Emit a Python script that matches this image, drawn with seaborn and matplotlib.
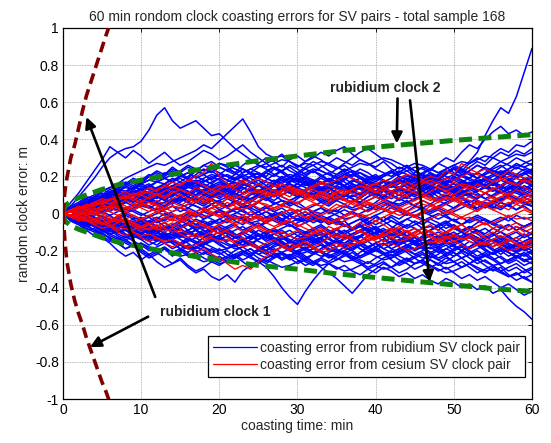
import numpy as np
import pandas as pd
import matplotlib
matplotlib.use("Agg")
import matplotlib.pyplot as plt
import seaborn as sns
from matplotlib.lines import Line2D

# ---------------- data (clock errors in cm, one value per minute 0..60) ----------------
rb01 = [0,4,9,14,19,25,30,33,35,36, 39,45,53,57,50,46,48,50,46,42, 43,39,35,32,29,26,24,21,19,17,
        18,20,16,13,15,18,19,16,14,12, 11,13,16,17,14,12,10,9,12,14, 16,13,10,8,11,13,15,12,11,9, 10]
rb02 = [0,2,4,7,9,12,14,16,19,21, 23,25,27,26,28,30,32,34,37,35, 39,43,47,51,44,36,32,30,31,28,
        25,27,26,23,21,24,26,23,20,18, 19,21,23,20,18,16,17,19,21,18, 16,14,15,17,19,16,14,13,15,17, 16]
rb03 = [0,-2,1,3,1,4,3,6,8,6, 9,11,9,12,14,12,15,17,15,13, 11,13,15,17,14,12,10,9,12,14,
        16,14,12,10,9,7,10,12,14,17, 15,13,11,14,16,19,17,19,20,22, 24,25,28,33,42,50,57,54,63,76, 89]
rb04 = [0,3,1,4,6,4,7,9,8,11, 13,10,8,11,14,12,9,7,10,13, 15,12,10,13,16,18,15,12,14,17,
        19,16,13,11,14,17,15,12,10,13, 16,14,17,20,18,22,25,23,27,30, 28,33,37,35,40,44,47,43,45,42, 44]
rb05 = [0,-1,2,4,3,6,8,5,7,10, 12,15,13,16,19,17,20,23,21,18, 21,24,22,19,17,20,23,25,22,19,
        22,25,28,26,23,21,24,22,19,17, 15,18,16,13,11,14,17,20,18,22, 25,23,27,30,28,32,35,33,37,36, 39]
rb06 = [0,-3,-5,-4,-7,-9,-8,-11,-13,-12, -14,-17,-15,-13,-16,-19,-17,-20,-22,-19, -21,-24,-22,-20,-23,-26,-29,-34,-40,-45,
        -49,-42,-36,-31,-27,-25,-22,-24,-21,-18, -16,-19,-17,-14,-12,-15,-18,-16,-13,-11, -14,-12,-9,-11,-14,-12,-10,-13,-15,-12, -10]
rb07 = [0,-1,-3,-2,-5,-4,-6,-8,-7,-9, -11,-9,-12,-14,-12,-10,-13,-15,-17,-14, -16,-19,-17,-20,-22,-19,-21,-24,-22,-25,
        -23,-26,-28,-25,-27,-30,-28,-31,-33,-30, -32,-29,-31,-34,-32,-35,-33,-36,-38,-35, -37,-40,-38,-41,-39,-43,-41,-46,-50,-53, -57]
rb08 = [0,2,-1,-3,-2,-5,-7,-6,-9,-11, -10,-13,-15,-12,-14,-17,-19,-16,-18,-21, -19,-22,-24,-21,-23,-20,-18,-21,-24,-22,
        -25,-28,-26,-29,-32,-35,-39,-43,-38,-33, -30,-27,-29,-26,-24,-27,-25,-22,-20,-23, -21,-24,-27,-25,-28,-31,-29,-33,-36,-34, -37]
rb09 = [0,-4,-6,-9,-12,-10,-14,-16,-19,-17, -20,-23,-21,-24,-27,-25,-29,-32,-30,-34, -36,-33,-37,-31,-28,-25,-27,-24,-21,-23,
        -20,-18,-21,-19,-16,-14,-17,-15,-12,-10, -13,-11,-8,-10,-13,-15,-12,-9,-7,-10, -12,-14,-11,-9,-12,-15,-13,-16,-18,-15, -13]
rb10 = [0,-3,-2,-6,-9,-13,-16,-20,-23,-21, -25,-22,-26,-29,-27,-24,-28,-31,-29,-26, -23,-26,-24,-21,-19,-22,-20,-17,-15,-18,
        -21,-19,-16,-14,-17,-20,-22,-19,-17,-15, -18,-21,-23,-20,-18,-16,-19,-22,-25,-23, -26,-29,-27,-24,-22,-25,-28,-31,-29,-32, -30]
rb11 = [0,6,11,17,23,29,36,33,30,34, 31,27,30,33,29,26,28,31,34,32, 29,31,34,37,33,30,27,29,32,28,
        25,28,31,29,26,24,27,30,33,35, 32,29,27,24,26,23,21,24,27,25, 22,20,23,26,24,21,19,22,25,23, 21]
rb12 = [0,3,5,8,6,10,13,11,15,18, 16,20,23,21,25,22,19,23,26,24, 27,25,22,26,29,27,30,28,25,29,
        31,28,30,33,31,34,36,32,29,27, 25,28,24,22,25,21,19,22,18,16, 19,17,14,16,19,17,15,18,21,19, 17]
rb13 = [0,1,3,2,4,6,5,3,6,8, 7,9,6,4,7,9,11,8,6,9, 12,10,8,11,13,10,12,15,13,11,
        9,12,14,11,9,7,10,8,6,9, 11,13,10,8,11,14,12,10,7,9, 12,10,13,11,8,10,13,15,12,10, 12]
rb14 = [0,-1,-3,-2,-4,-6,-5,-7,-5,-8, -6,-9,-11,-8,-10,-13,-11,-9,-12,-10, -8,-11,-9,-7,-10,-12,-14,-11,-13,-15,
        -12,-10,-13,-11,-14,-16,-13,-11,-9,-12, -10,-8,-11,-13,-15,-12,-14,-17,-15,-13, -16,-14,-11,-13,-16,-18,-15,-17,-20,-18, -16]
rb15 = [0,2,1,3,5,4,7,9,8,11, 13,11,14,16,13,15,18,16,14,17, 19,16,14,17,15,12,14,16,19,17,
        20,18,15,13,16,18,21,19,17,14, 12,15,17,14,12,10,13,15,18,16, 14,17,19,22,20,18,21,19,16,18, 20]
rb16 = [0,-2,-1,-4,-6,-5,-8,-10,-9,-12, -14,-12,-15,-13,-11,-14,-16,-19,-17,-15, -13,-16,-18,-15,-12,-14,-11,-9,-12,-14,
        -17,-15,-13,-16,-19,-21,-18,-20,-23,-21, -19,-22,-24,-21,-18,-20,-17,-15,-18,-21, -23,-20,-22,-25,-23,-21,-24,-27,-25,-28, -26]
rb17 = [0,1,-1,0,2,1,-1,1,3,2, 0,-2,0,2,4,3,1,-1,1,3, 5,3,1,-1,-3,-1,1,-1,-3,-5,
        -3,-1,1,3,1,-1,-3,-2,0,2, 4,6,4,2,0,-2,0,2,4,6, 8,6,4,2,4,6,8,10,8,6, 4]
rb18 = [0,3,5,4,7,9,12,10,8,11, 14,16,13,11,9,12,15,17,14,12, 10,13,11,8,6,9,12,10,7,5,
        8,11,9,6,4,7,10,8,5,3, 6,9,12,10,8,11,14,12,9,7, 10,8,5,3,6,4,2,5,8,6, 4]
rb19 = [0,-2,-4,-3,-5,-3,-1,-4,-6,-8, -6,-4,-7,-9,-7,-5,-3,-6,-8,-5, -3,-1,-4,-6,-3,-1,1,-2,-4,-1,
        1,3,0,-2,-5,-3,-6,-8,-5,-3, -1,-4,-7,-9,-6,-8,-11,-9,-6,-4, -7,-10,-8,-5,-3,-6,-4,-2,-5,-7, -5]
rb20 = [0,2,4,6,5,8,10,12,15,13, 16,18,21,19,17,20,22,19,21,24, 22,20,18,21,19,16,18,21,23,20,
        18,15,17,20,22,19,17,14,16,13, 11,14,16,19,21,18,16,13,15,17, 20,18,15,17,14,12,15,13,16,18, 15]
rb21 = [0,-1,-3,-5,-4,-7,-9,-8,-11,-13, -12,-15,-17,-14,-16,-19,-21,-18,-20,-22, -25,-23,-20,-18,-21,-24,-26,-23,-21,-24,
        -27,-25,-22,-20,-23,-21,-18,-16,-19,-22, -20,-17,-15,-18,-21,-24,-22,-25,-28,-26, -23,-21,-24,-27,-25,-28,-31,-29,-27,-30, -33]
rb22 = [0,1,0,2,4,3,5,3,1,3, 5,7,5,3,6,8,6,4,2,5, 7,9,7,5,8,10,8,6,4,7,
        9,11,9,7,5,8,10,8,6,9, 11,9,12,14,12,10,13,15,13,16, 18,16,14,17,19,17,15,18,20,22, 19]
rb23 = [0,-3,-1,-4,-2,-5,-7,-5,-3,-6, -4,-2,-5,-3,-1,-4,-2,0,-3,-1, 1,-2,0,2,-1,1,3,1,-1,-3,
        -1,1,-2,-4,-2,0,2,0,-2,-4, -6,-4,-2,-5,-3,-1,-3,-5,-7,-5, -3,-6,-4,-2,-4,-6,-8,-6,-9,-7, -5]
rb24 = [0,2,5,3,6,8,11,9,12,10, 8,11,13,10,8,6,9,7,5,8, 6,4,7,5,3,6,9,7,10,12,
        10,13,15,12,14,11,9,12,14,17, 15,13,10,12,9,7,10,12,15,13, 11,9,6,8,11,9,7,10,8,11, 13]
rb25 = [0,-2,-5,-7,-6,-9,-11,-10,-8,-11, -9,-7,-10,-12,-10,-8,-11,-9,-12,-14, -12,-10,-13,-15,-17,-14,-12,-15,-13,-16,
        -14,-11,-9,-12,-10,-8,-11,-9,-7,-10, -12,-15,-13,-16,-14,-17,-19,-16,-18,-15, -13,-16,-19,-17,-20,-22,-19,-21,-24,-22, -20]
rb26 = [0,1,3,5,7,6,4,7,9,11, 9,12,10,7,5,8,6,9,11,14, 12,15,17,14,12,10,13,11,14,16,
        13,11,9,12,10,13,15,18,16,19, 21,18,16,14,17,15,12,14,11,9, 12,10,13,15,18,16,14,17,19,21, 23]
rb27 = [0,-1,1,-1,-3,-2,-4,-2,0,-2, -4,-6,-4,-7,-9,-7,-5,-8,-6,-4, -6,-8,-6,-9,-7,-5,-8,-10,-8,-6,
        -9,-11,-9,-7,-10,-12,-10,-8,-6,-9, -11,-13,-11,-9,-12,-10,-8,-10,-12,-14, -12,-10,-13,-15,-13,-11,-14,-12,-15,-17, -14]
rb28 = [0,2,3,1,3,5,7,5,8,10, 8,6,9,7,10,12,10,13,11,9, 12,14,12,15,17,15,13,11,14,12,
        10,8,11,9,7,10,8,6,9,11, 9,7,5,8,6,4,7,5,8,10, 8,11,9,7,5,3,6,4,7,9, 6]
rb29 = [0,-2,-3,-5,-7,-9,-12,-14,-12,-15, -17,-20,-18,-16,-19,-17,-14,-16,-13,-11, -14,-12,-15,-17,-15,-18,-20,-18,-16,-19,
        -21,-19,-17,-15,-13,-16,-14,-12,-15,-18, -16,-19,-21,-19,-17,-20,-18,-21,-24,-22, -19,-17,-20,-23,-21,-24,-27,-25,-23,-26, -24]
rb30 = [0,3,2,5,7,6,9,12,10,13, 15,13,11,14,17,19,16,14,17,20, 18,15,13,16,14,11,9,12,15,13,
        16,19,17,14,12,15,18,21,19,16, 14,17,19,22,25,23,20,18,21,24, 26,24,21,19,22,25,28,26,24,27, 29]
rb31 = [0,-1,-2,0,-2,-4,-3,-5,-7,-6, -8,-10,-8,-11,-13,-11,-9,-7,-9,-12, -10,-8,-11,-13,-16,-14,-12,-15,-17,-20,
        -18,-16,-19,-21,-24,-22,-20,-23,-25,-27, -24,-22,-25,-28,-26,-24,-27,-29,-27,-30, -28,-26,-29,-32,-30,-28,-31,-34,-32,-35, -37]
rb32 = [0,2,1,-1,1,3,5,4,6,8, 10,8,11,9,12,14,17,15,18,16, 14,17,19,17,20,22,20,24,26,23,
        21,24,22,25,27,30,28,26,29,27, 24,22,20,23,21,19,22,24,22,20, 18,21,23,26,24,22,25,27,30,28, 26]
rb33 = [0,-1,-3,-4,-2,-4,-6,-8,-6,-4, -6,-8,-10,-8,-6,-4,-6,-3,-5,-7, -9,-7,-5,-3,-5,-7,-4,-2,-4,-6,
        -8,-10,-8,-6,-9,-11,-13,-11,-9,-7, -9,-11,-14,-12,-10,-8,-11,-9,-7,-5, -8,-10,-12,-15,-17,-14,-16,-19,-21,-18, -20]
rb34 = [0,2,4,3,5,3,1,4,6,8, 6,4,2,4,7,5,3,1,3,5, 2,0,2,4,2,-1,-3,-1,1,-1,
        -3,-5,-3,-1,-3,-5,-7,-5,-3,-6, -4,-2,-4,-6,-8,-6,-4,-2,0,-2, -4,-6,-3,-1,-3,-5,-7,-9,-7,-9, -11]
rb35 = [0,1,4,6,9,11,10,13,16,14, 17,20,18,21,24,22,25,23,26,28, 25,23,26,24,21,19,22,20,23,25,
        22,20,23,21,18,16,19,21,24,22, 19,21,23,20,18,21,19,16,18,21, 24,22,25,28,26,30,33,31,34,32, 35]
rb36 = [0,-2,-4,-7,-9,-11,-13,-16,-19,-17, -21,-24,-22,-19,-23,-20,-18,-21,-24,-26, -28,-25,-23,-26,-29,-27,-24,-22,-25,-23,
        -20,-23,-26,-24,-21,-19,-22,-25,-27,-30, -28,-26,-29,-32,-30,-27,-25,-28,-31,-29, -32,-35,-33,-36,-34,-37,-40,-38,-41,-44, -42]
rb37 = [0,2,4,6,8,7,10,12,11,14, 16,14,17,19,17,15,18,20,18,16, 19,21,19,22,24,22,19,17,20,18,
        16,19,17,14,16,18,15,13,16,18, 20,17,15,18,16,13,15,17,19,16, 14,17,15,12,14,16,13,11,14,12, 15]
rb38 = [0,-2,-4,-6,-5,-8,-10,-9,-12,-10, -13,-15,-13,-11,-14,-12,-10,-13,-16,-14, -17,-19,-16,-14,-17,-19,-17,-20,-18,-15,
        -17,-20,-22,-19,-17,-15,-18,-16,-19,-21, -18,-16,-19,-17,-14,-16,-18,-21,-19,-17, -20,-18,-15,-17,-20,-22,-20,-18,-21,-23, -21]
rb39 = [0,1,3,5,4,6,9,11,9,12, 10,8,11,13,15,13,16,14,12,15, 17,15,18,20,17,15,13,16,14,17,
        19,17,15,12,14,11,13,16,14,12, 15,17,14,16,19,17,15,18,16,14, 11,13,16,18,15,17,20,18,16,19, 17]
rb40 = [0,-1,-3,-2,-5,-7,-6,-4,-7,-9, -8,-11,-9,-7,-10,-8,-6,-9,-11,-9, -7,-10,-12,-10,-8,-11,-13,-11,-9,-12,
        -14,-12,-15,-13,-11,-14,-16,-14,-12,-15, -13,-11,-14,-17,-15,-13,-16,-14,-12,-15, -17,-15,-13,-16,-18,-16,-14,-17,-19,-17, -15]
rb41 = [0,2,1,4,6,5,3,6,8,7, 5,8,6,9,11,9,7,10,12,10, 8,11,9,7,10,12,14,12,10,13,
        11,9,12,14,12,15,13,11,14,12, 10,13,15,13,11,9,12,10,13,15, 13,11,14,16,14,12,15,17,15,13, 16]
rb42 = [0,-1,1,3,2,0,2,4,3,1, -1,1,3,1,-1,-3,-1,1,-1,-3, -5,-3,-1,-3,-5,-7,-5,-3,-5,-7,
        -5,-3,-1,-3,-5,-3,-1,1,-1,-3, -1,1,3,1,-1,1,3,5,3,1, 3,5,7,5,3,5,7,9,7,5, 7]
rb43 = [0,3,5,8,10,13,11,14,16,19, 17,20,22,20,23,21,18,21,24,22, 25,23,21,24,22,19,22,25,23,26,
        24,21,23,20,18,21,23,20,22,19, 17,20,22,25,23,20,18,21,19,22, 24,21,19,22,25,23,21,24,27,25, 23]
rb44 = [0,-3,-5,-8,-10,-12,-15,-13,-16,-18, -16,-19,-21,-19,-22,-20,-23,-21,-18,-20, -22,-20,-23,-21,-19,-22,-24,-22,-25,-23,
        -21,-24,-22,-20,-23,-25,-23,-21,-24,-22, -19,-22,-20,-23,-25,-23,-21,-24,-22,-19, -21,-24,-22,-20,-23,-25,-23,-26,-24,-22, -25]
rb45 = [0,1,2,4,3,5,7,6,8,10, 9,11,13,12,10,12,14,13,11,9, 11,13,11,9,8,10,12,11,9,7,
        9,11,10,8,6,8,10,9,11,13, 12,10,8,10,12,11,9,11,13,15, 14,12,10,12,14,13,11,13,15,14, 12]
rb46 = [0,-1,-2,-4,-3,-5,-4,-6,-8,-7, -5,-7,-9,-8,-10,-12,-11,-9,-11,-13, -12,-10,-12,-14,-13,-11,-13,-15,-14,-12,
        -10,-12,-14,-13,-11,-9,-11,-13,-12,-10, -8,-10,-12,-11,-13,-15,-14,-12,-10,-12, -14,-13,-11,-13,-15,-14,-16,-18,-17,-15, -13]
rb47 = [0,2,3,5,7,9,8,10,12,14, 13,15,17,16,18,20,19,17,19,21, 20,18,16,18,20,19,17,15,17,19,
        18,16,14,16,18,17,15,13,15,17, 16,14,16,18,17,19,21,20,18,16, 18,20,19,17,19,21,23,22,20,22, 24]
rb48 = [0,-2,-3,-5,-7,-6,-8,-10,-9,-11, -13,-12,-14,-16,-15,-17,-19,-18,-16,-18, -20,-19,-17,-15,-17,-19,-18,-16,-18,-20,
        -22,-21,-19,-17,-19,-21,-20,-18,-16,-18, -20,-22,-21,-19,-17,-15,-17,-19,-18,-16, -18,-20,-22,-24,-23,-21,-19,-21,-23,-25, -24]
rb49 = [0,1,-1,2,1,3,5,4,2,5, 4,7,5,6,8,7,9,6,8,5, 7,4,6,3,5,2,4,1,3,0,
        2,-1,1,0,2,1,4,2,3,5, 2,4,6,5,7,4,3,1,3,5, 3,6,4,7,5,3,6,4,2,5, 4]
rb50 = [0,-2,0,-1,-3,-2,-5,-3,-4,-6, -3,-5,-7,-5,-8,-6,-9,-7,-4,-6, -3,-5,-2,-4,-1,-3,-5,-2,0,-3,
        -1,-4,-2,-5,-3,-6,-4,-8,-6,-9, -7,-10,-8,-5,-7,-4,-6,-3,-5,-8, -6,-9,-7,-10,-8,-11,-8,-6,-9,-7, -5]
rb51 = [0,2,4,3,5,7,9,8,10,12, 11,9,11,13,15,14,12,10,12,14, 16,15,13,11,13,15,17,16,14,12,
        14,16,18,17,15,13,15,17,19,18, 16,14,16,18,20,19,17,15,17,19, 21,20,18,16,18,20,22,21,19,17, 19]
rb52 = [0,-1,-4,-6,-5,-8,-7,-9,-12,-10, -8,-10,-13,-11,-14,-16,-13,-11,-9,-12, -14,-12,-15,-17,-14,-12,-10,-13,-15,-18,
        -16,-13,-15,-17,-20,-18,-16,-13,-15,-12, -10,-13,-16,-14,-17,-19,-16,-14,-12,-15, -17,-20,-18,-15,-17,-19,-22,-19,-17,-20, -18]
rb53 = [0,3,2,5,4,7,6,9,7,10, 12,9,11,8,10,13,11,14,12,15, 13,16,14,11,13,10,12,15,13,16,
        14,17,15,12,14,11,9,12,10,13, 11,8,10,7,9,12,10,13,11,14, 12,15,17,14,16,13,11,14,12,15, 13]
rb54 = [0,-3,-2,-5,-4,-7,-5,-8,-6,-9, -11,-8,-10,-7,-9,-12,-10,-13,-11,-14, -12,-15,-13,-10,-12,-9,-11,-14,-12,-15,
        -17,-14,-16,-13,-11,-14,-12,-15,-13,-10, -8,-11,-9,-12,-10,-13,-16,-14,-17,-15, -12,-14,-11,-13,-16,-14,-17,-19,-16,-18, -15]
rb55 = [0,1,3,2,4,2,5,7,6,4, 6,3,5,2,4,1,3,6,4,7, 5,8,6,9,7,10,8,5,7,4,
        6,3,1,3,0,2,-1,1,3,1, 4,2,5,3,1,4,2,0,2,-1, 1,3,5,2,4,6,3,5,2,4, 1]
rb56 = [0,-1,-2,-1,-3,-1,-4,-2,-5,-3, -6,-4,-2,-4,-1,-3,0,-2,1,-1, 2,0,3,1,-1,1,-2,0,-3,-1,
        -4,-2,-5,-3,-6,-4,-7,-5,-3,-5, -2,-4,-1,-3,0,-2,1,-1,-3,-1, -4,-2,-5,-3,-6,-4,-2,-4,-1,-3, -2]
rb57 = [0,4,6,9,8,12,14,13,17,15, 18,21,19,22,20,23,26,24,21,23, 20,18,21,24,22,25,27,24,22,19,
        21,18,16,19,17,20,22,19,17,14, 16,13,15,18,16,19,21,18,20,23, 21,24,22,19,21,24,26,23,21,24, 22]
rb58 = [0,-4,-6,-9,-8,-11,-13,-16,-14,-17, -19,-22,-20,-18,-21,-19,-22,-24,-21,-23, -26,-24,-22,-25,-23,-20,-22,-19,-21,-24,
        -22,-25,-27,-24,-26,-23,-21,-24,-26,-29, -27,-24,-22,-25,-27,-30,-28,-25,-27,-24, -26,-29,-27,-30,-32,-29,-31,-34,-32,-35, -33]
rb59 = [0,2,1,3,6,4,7,5,8,11, 9,7,10,8,6,9,12,10,13,11, 9,12,10,8,11,9,7,10,13,11,
        14,12,10,13,11,9,7,10,8,11, 9,12,10,13,16,14,12,15,13,11, 14,12,10,8,11,9,12,10,13,11, 9]
rb60 = [0,-2,-1,-3,-6,-4,-7,-5,-3,-6, -4,-7,-9,-7,-10,-8,-6,-9,-7,-10, -8,-11,-13,-11,-9,-12,-10,-8,-11,-9,
        -12,-14,-12,-10,-13,-11,-9,-12,-10,-8, -11,-9,-12,-10,-13,-15,-13,-11,-14,-12, -10,-13,-11,-14,-16,-14,-12,-15,-13,-11, -14]
rb61 = [0,1,3,5,8,10,9,12,14,13, 11,14,12,10,13,11,9,12,10,8, 11,9,12,14,12,15,13,16,18,16,
        14,17,15,13,16,14,12,15,13,11, 14,12,15,17,15,18,16,14,17,15, 13,16,14,12,15,13,11,14,16,19, 17]
rb62 = [0,-1,-3,-5,-7,-10,-9,-12,-14,-13, -11,-14,-12,-10,-13,-11,-9,-12,-10,-8, -11,-9,-12,-14,-12,-15,-17,-15,-18,-16,
        -14,-17,-15,-13,-16,-18,-16,-19,-17,-20, -18,-16,-19,-21,-19,-22,-20,-18,-21,-19, -17,-20,-18,-16,-19,-22,-20,-23,-21,-19, -22]
rb63 = [0,2,3,2,4,6,5,7,9,8, 10,12,11,13,15,14,16,18,17,19, 21,20,18,20,22,21,19,17,19,21,
        20,22,24,23,21,19,21,23,22,20, 18,20,22,21,23,25,24,22,20,22, 24,23,21,19,21,23,22,24,26,25, 27]
rb64 = [0,-1,-4,-3,-2,-5,-7,-6,-8,-7, -9,-11,-13,-12,-10,-12,-14,-16,-15,-13, -15,-17,-19,-18,-16,-18,-20,-22,-21,-19,
        -17,-19,-21,-23,-22,-24,-26,-25,-23,-21, -23,-25,-24,-22,-20,-22,-24,-23,-25,-27, -26,-24,-22,-24,-26,-28,-27,-25,-23,-25, -27]
rb65 = [0,1,0,-2,-1,1,3,2,0,2, 4,3,1,-1,1,3,5,4,2,0, 2,4,6,5,3,1,3,5,7,6,
        4,2,4,6,8,7,5,3,5,7, 9,8,6,4,6,8,10,9,7,5, 7,9,11,10,8,6,8,10,12,11, 9]
rb66 = [0,-2,-1,1,0,-2,-4,-3,-1,-3, -2,-5,-3,0,-2,-1,-4,-6,-3,-1, 1,-1,-3,-2,-5,-4,-2,-4,-6,-4,
        -7,-5,-3,-5,-2,-4,-6,-9,-7,-5, -8,-6,-4,-6,-3,-5,-8,-7,-9,-6, -8,-10,-7,-9,-11,-8,-10,-12,-10,-13, -11]
rb67 = [0,3,5,4,6,9,7,10,8,6, 9,11,14,12,15,17,15,13,16,14, 12,15,13,11,14,12,15,18,16,19,
        17,20,18,16,19,17,14,12,15,13, 11,14,12,10,13,16,14,17,19,17, 20,18,16,19,17,15,18,16,14,17, 15]
rb68 = [0,-3,-5,-4,-6,-9,-7,-10,-8,-6, -9,-11,-14,-12,-15,-17,-15,-13,-11,-14, -12,-10,-13,-11,-14,-12,-15,-13,-16,-18,
        -15,-13,-11,-14,-17,-15,-18,-20,-17,-19, -16,-14,-17,-15,-13,-16,-14,-17,-19,-22, -20,-18,-21,-19,-17,-20,-18,-21,-23,-21, -24]
rb69 = [0,2,4,5,7,9,11,13,12,14, 16,18,17,19,21,20,22,24,23,25, 27,26,24,22,24,26,25,27,29,28,
        26,24,26,28,27,25,23,25,27,26, 28,30,29,27,25,27,26,24,22,24, 26,28,27,29,31,30,28,30,32,31, 33]
rb70 = [0,-2,-4,-5,-7,-9,-11,-13,-15,-17, -16,-18,-20,-19,-21,-23,-22,-24,-26,-25, -27,-26,-24,-22,-24,-26,-25,-27,-29,-28,
        -26,-24,-26,-28,-27,-29,-31,-30,-28,-26, -28,-30,-29,-27,-25,-27,-26,-28,-30,-32, -31,-29,-27,-29,-31,-30,-32,-34,-33,-31, -29]

cs01 = [0,2,4,3,6,8,7,10,12,9, 11,14,12,15,17,15,18,20,22,27, 20,16,14,17,15,12,10,13,11,9,
        12,10,8,11,13,10,8,6,9,11, 9,7,10,12,9,7,10,8,6,9, 7,10,12,9,11,8,6,9,7,5, 8]
cs02 = [0,1,-1,1,3,2,4,3,1,4, 6,4,7,5,8,10,8,6,9,7, 5,8,10,8,11,13,11,9,12,14,
        12,10,13,11,9,12,10,13,15,13, 11,14,16,14,17,15,18,20,19,23, 21,27,24,22,24,22,20,23,21,19, 20]
cs03 = [0,-2,-4,-3,-6,-8,-7,-10,-12,-10, -13,-15,-13,-16,-18,-16,-19,-21,-19,-22, -24,-27,-30,-28,-30,-26,-23,-21,-18,-20,
        -17,-15,-18,-16,-13,-11,-14,-12,-9,-11, -13,-10,-8,-11,-13,-10,-8,-6,-9,-11, -8,-6,-9,-7,-5,-8,-10,-7,-5,-8, -6]
cs04 = [0,1,3,2,0,2,4,6,4,2, 5,3,1,3,6,4,7,9,7,5, 3,6,4,2,4,7,9,11,9,7,
        5,8,6,4,2,5,3,6,8,6, 4,2,0,3,1,-1,1,4,2,0, 2,5,3,1,4,6,4,2,5,7, 5]
cs05 = [0,-1,-3,-1,-3,-5,-4,-2,-4,-6, -8,-6,-9,-7,-5,-8,-6,-4,-7,-9, -11,-9,-7,-10,-8,-6,-9,-11,-13,-11,
        -9,-12,-10,-8,-11,-13,-11,-14,-16,-14, -12,-15,-13,-11,-9,-12,-10,-13,-15,-13, -11,-14,-12,-10,-13,-15,-17,-15,-13,-16, -14]
cs06 = [0,2,1,3,5,7,5,8,10,8, 6,9,11,9,12,10,8,6,9,7, 5,3,6,4,7,9,12,10,13,15,
        13,11,9,12,10,8,11,13,11,14, 16,14,12,10,13,11,9,12,14,12, 10,13,15,13,11,14,12,10,13,11, 9]
cs07 = [0,-1,1,-1,-3,-1,-3,-5,-3,-1, -3,-1,1,-1,-3,-5,-3,-1,1,3, 1,-1,-3,-1,1,-2,-4,-2,0,2,
        0,-2,-4,-2,-4,-6,-4,-2,0,-2, -4,-2,0,2,0,-2,0,2,4,2, 0,-2,0,2,4,2,0,-2,0,2, 0]
cs08 = [0,2,3,5,4,6,8,7,9,7, 10,12,10,8,11,13,11,14,12,10, 13,15,13,11,14,16,14,12,10,13,
        11,9,7,10,8,11,13,11,9,12, 14,12,15,17,15,13,16,18,16,14, 17,15,13,16,14,17,19,17,15,18, 16]
cs09 = [0,-2,-1,-3,-5,-3,-6,-8,-6,-9, -7,-5,-8,-10,-8,-11,-13,-11,-14,-12, -10,-13,-15,-13,-16,-18,-16,-14,-17,-19,
        -17,-15,-18,-20,-18,-16,-19,-17,-15,-12, -14,-12,-9,-11,-13,-11,-8,-10,-12,-10, -7,-9,-11,-14,-12,-10,-13,-11,-9,-12, -10]
cs10 = [0,1,0,2,1,3,1,-1,1,-1, -3,-1,-3,-5,-3,-1,1,-1,1,3, 5,3,5,7,5,3,1,3,5,3,
        1,3,1,-1,1,3,5,7,5,7, 9,7,5,3,5,7,9,7,9,11, 9,7,9,7,5,7,9,11,9,7, 9]
cs11 = [0,-1,-2,-4,-3,-5,-7,-5,-3,-5, -7,-9,-7,-5,-7,-4,-2,-4,-6,-8, -6,-4,-2,-4,-6,-8,-10,-8,-6,-4,
        -6,-8,-10,-12,-10,-8,-6,-8,-10,-12, -14,-12,-10,-8,-10,-12,-14,-16,-14,-12, -15,-17,-19,-17,-15,-18,-16,-14,-17,-19, -17]
cs12 = [0,1,3,4,6,5,3,5,7,5, 3,1,3,1,-1,-3,-1,1,3,1, -1,-3,-5,-3,-1,-3,-5,-7,-5,-3,
        -1,1,-1,-3,-5,-3,-1,1,3,1, 3,5,3,1,3,5,7,5,3,5, 7,9,7,5,7,9,11,9,7,9, 11]
cs13 = [0,1,3,2,4,6,5,7,9,11, 10,8,10,12,14,13,11,9,11,13, 12,10,8,10,12,11,13,15,14,12,
        10,12,14,16,15,13,11,13,15,14, 12,10,12,14,13,15,17,16,14,12, 14,16,15,13,11,13,15,17,16,14, 12]
cs14 = [0,-1,-3,-2,-4,-6,-5,-3,-5,-7, -9,-8,-6,-8,-10,-9,-11,-13,-12,-10, -8,-10,-12,-11,-9,-7,-9,-11,-10,-12,
        -14,-13,-11,-9,-11,-13,-12,-14,-16,-15, -13,-11,-13,-15,-14,-12,-10,-12,-14,-16, -15,-13,-15,-17,-16,-14,-12,-14,-16,-18, -17]
cs15 = [0,2,1,-1,1,0,2,4,3,5, 7,6,4,2,4,3,5,7,6,8, 10,9,7,5,7,6,4,2,4,3,
        1,3,5,4,6,8,7,5,3,5, 4,2,0,2,1,3,5,4,6,8, 7,5,3,5,4,2,4,6,5,3, 1]
cs16 = [0,-2,-1,1,-1,0,-2,-4,-3,-5, -7,-6,-4,-2,-4,-3,-5,-7,-6,-8, -6,-4,-6,-5,-3,-1,-3,-2,0,2,
        0,-2,-1,-3,-5,-4,-2,0,-2,-1, 1,3,1,-1,0,-2,-4,-3,-1,1, -1,-3,-2,-4,-6,-5,-3,-1,-3,-2, -4]
cs17 = [0,1,2,4,6,5,7,9,8,10, 12,11,13,15,14,16,18,17,15,13, 15,14,16,18,17,19,17,15,16,14,
        12,13,15,17,16,18,20,19,17,15, 16,18,17,19,21,20,18,16,17,19, 18,20,22,21,19,17,18,20,19,17, 18]
cs18 = [0,-1,-2,-4,-6,-5,-7,-9,-8,-10, -12,-11,-13,-15,-14,-16,-18,-17,-15,-13, -15,-14,-16,-18,-17,-19,-21,-20,-18,-16,
        -18,-17,-19,-21,-20,-18,-16,-17,-15,-13, -15,-17,-16,-18,-20,-19,-17,-15,-16,-14, -12,-14,-13,-15,-17,-16,-18,-20,-19,-17, -15]
cs19 = [0,1,-1,0,2,4,3,1,3,2, 4,6,5,3,1,3,2,0,-2,0, -1,1,3,2,4,6,5,3,5,7,
        6,8,10,9,7,9,8,6,4,6, 5,7,9,8,10,12,11,9,7,9, 8,6,4,6,5,7,9,8,6,8, 7]
cs20 = [0,-2,0,-1,-3,-2,-4,-1,-3,-5, -3,-6,-4,-2,0,-2,1,-1,2,0, -2,0,-3,-1,-4,-2,-5,-3,-6,-4,
        -7,-5,-8,-10,-7,-9,-6,-8,-5,-7, -4,-6,-9,-7,-10,-8,-11,-9,-12,-10, -8,-6,-9,-7,-5,-8,-6,-9,-7,-10, -8]

rubidium_pairs = [rb01, rb02, rb03, rb04, rb05, rb06, rb07, rb08, rb09, rb10, rb11, rb12,
                  rb13, rb14, rb15, rb16, rb17, rb18, rb19, rb20, rb21, rb22, rb23, rb24,
                  rb25, rb26, rb27, rb28, rb29, rb30, rb31, rb32, rb33, rb34, rb35, rb36,
                  rb37, rb38, rb39, rb40, rb41, rb42, rb43, rb44, rb45, rb46, rb47, rb48,
                  rb49, rb50, rb51, rb52, rb53, rb54, rb55, rb56, rb57, rb58, rb59, rb60,
                  rb61, rb62, rb63, rb64, rb65, rb66, rb67, rb68, rb69, rb70]
cesium_pairs = [cs01, cs02, cs03, cs04, cs05, cs06, cs07, cs08, cs09, cs10,
                cs11, cs12, cs13, cs14, cs15, cs16, cs17, cs18, cs19, cs20]

# bound curves (m)
rb2_t = [0, 0.25, 1, 2, 3, 5, 7.5, 10, 15, 20, 25, 30, 35, 40, 45, 50, 55, 60]
rb2_upper = [0, 0.04, 0.065, 0.085, 0.10, 0.13, 0.16, 0.18, 0.22, 0.255, 0.285, 0.31, 0.335, 0.358, 0.376, 0.394, 0.41, 0.425]
rb2_lower = [0, -0.04, -0.065, -0.085, -0.10, -0.13, -0.16, -0.18, -0.22, -0.25, -0.28, -0.30, -0.325, -0.345, -0.365, -0.385, -0.405, -0.42]
rb1_t = [0, 0.25, 0.5, 1, 1.5, 2, 2.5, 3, 3.5, 4, 4.5, 5, 5.5, 6, 6.3]
rb1_upper = [0, 0.12, 0.19, 0.30, 0.37, 0.46, 0.555, 0.635, 0.70, 0.765, 0.83, 0.895, 0.96, 1.02, 1.06]
rb1_lower = [0, -0.15, -0.26, -0.38, -0.47, -0.54, -0.60, -0.67, -0.73, -0.79, -0.85, -0.91, -0.96, -1.02, -1.06]

title = "60 min rondom clock coasting errors for SV pairs - total sample 168"
xlabel = "coasting time: min"
ylabel = "random clock error: m"
legend_labels = ["coasting error from rubidium SV clock pair",
                 "coasting error from cesium SV clock pair"]
x_ticks = [0, 10, 20, 30, 40, 50, 60]
y_ticks = [-1, -0.8, -0.6, -0.4, -0.2, 0, 0.2, 0.4, 0.6, 0.8, 1]
y_tick_labels = ["-1", "-0.8", "-0.6", "-0.4", "-0.2", "0", "0.2", "0.4", "0.6", "0.8", "1"]

# ---------------- long-form table ----------------
rows = []
for kind, group in (("rubidium", rubidium_pairs), ("cesium", cesium_pairs)):
    for i, vals in enumerate(group):
        for minute, v in enumerate(vals):
            rows.append((kind, f"{kind}{i}", minute, v / 100.0))
df = pd.DataFrame(rows, columns=["clock", "pair", "t", "err"])

# ---------------- drawing ----------------
sns.set_style("white")
plt.rcParams["font.family"] = ["Liberation Sans", "DejaVu Sans"]
FS = 10

fig = plt.figure(figsize=(5.51, 4.43), dpi=100)
ax = fig.add_axes([0.1143, 0.0993, 0.8512, 0.8375])

sns.lineplot(data=df[df.clock == "rubidium"], x="t", y="err", units="pair", estimator=None,
             sort=False, color="#0000ff", lw=1.1, ax=ax, legend=False, zorder=2)
sns.lineplot(data=df[df.clock == "cesium"], x="t", y="err", units="pair", estimator=None,
             sort=False, color="#ff0000", lw=0.95, ax=ax, legend=False, zorder=3)

green = "#0f830f"
ax.plot(rb2_t, rb2_upper, color=green, lw=3.6, dashes=(2.6, 1.3), zorder=4)
ax.plot(rb2_t, rb2_lower, color=green, lw=3.6, dashes=(2.6, 1.3), zorder=4)
dred = "#800000"
ax.plot(rb1_t, rb1_upper, color=dred, lw=2.6, dashes=(3.0, 1.6), zorder=4)
ax.plot(rb1_t, rb1_lower, color=dred, lw=2.6, dashes=(3.0, 1.6), zorder=4)

ax.set_xlim(0, 60)
ax.set_ylim(-1, 1)
ax.set_xticks(x_ticks)
ax.set_yticks(y_ticks)
ax.set_yticklabels(y_tick_labels)
ax.grid(True, color="#a0a0a0", lw=0.6, ls=(0, (1, 1)))
ax.set_axisbelow(True)
ax.tick_params(direction="in", top=True, right=True, length=3, width=0.6, labelsize=FS, pad=3,
               colors="black")
for s in ax.spines.values():
    s.set_color("black")
    s.set_linewidth(0.9)

ax.set_title(title, fontsize=FS, pad=5)
ax.set_xlabel(xlabel, fontsize=FS, labelpad=1)
ax.set_ylabel(ylabel, fontsize=FS, labelpad=3)

arrow = dict(arrowstyle="-|>", lw=1.9, color="black", mutation_scale=16, shrinkA=0, shrinkB=0)
ax.annotate("", xy=(3.0, 0.52), xytext=(11.8, -0.45), arrowprops=arrow, zorder=6)
ax.annotate("", xy=(3.45, -0.72), xytext=(10.9, -0.556), arrowprops=arrow, zorder=6)
ax.annotate("", xy=(42.7, 0.378), xytext=(42.8, 0.62), arrowprops=arrow, zorder=6)
ax.annotate("", xy=(46.9, -0.368), xytext=(44.4, 0.61), arrowprops=arrow, zorder=6)
ax.text(19.5, -0.53, "rubidium clock 1", ha="center", va="center", fontweight="bold",
        fontsize=FS, zorder=7)
ax.text(41.2, 0.675, "rubidium clock 2", ha="center", va="center", fontweight="bold",
        fontsize=FS, zorder=7)

handles = [Line2D([], [], color="#0000ff", lw=0.9), Line2D([], [], color="#ff0000", lw=0.9)]
leg = ax.legend(handles, legend_labels, loc="lower right", bbox_to_anchor=(0.985, 0.059),
                fontsize=FS, frameon=True, fancybox=False, framealpha=1, edgecolor="black",
                borderpad=0.35, handlelength=3.2, handletextpad=0.2, labelspacing=0.25,
                borderaxespad=0)
leg.get_frame().set_linewidth(0.9)
leg.set_zorder(10)

fig.savefig("out.png", dpi=100)
